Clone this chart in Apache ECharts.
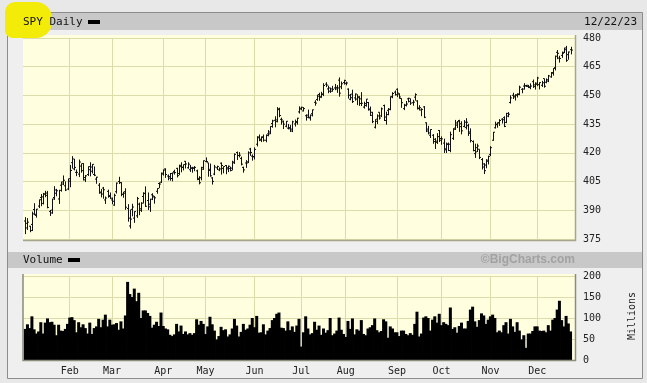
<!DOCTYPE html>
<html>
<head>
<meta charset="utf-8">
<style>
  html, body { margin: 0; padding: 0; background: #e8e8e8; }
  #chart { width: 647px; height: 383px; }
</style>
<script src="https://cdn.jsdelivr.net/npm/echarts@6/dist/echarts.min.js"></script>
</head>
<body>
<div id="chart"></div>
<script>
// market holidays 2023, used to build the trading-day categories
const holidays = ['2023-01-16', '2023-02-20', '2023-04-07', '2023-05-29',
  '2023-06-19', '2023-07-04', '2023-09-04', '2023-11-23'];
const monthNames = ['Jan', 'Feb', 'Mar', 'Apr', 'May', 'Jun', 'Jul', 'Aug', 'Sep', 'Oct', 'Nov', 'Dec'];

// SPY daily, Jan 3 .. Dec 22 2023
const open = [
  384.4, 383.2, 381.7, 382.6, 390.4, 387.3, 392.2, 396.7, 393.6, 398.5, 399.0, 389.4, 390.1, 396.7, 398.9, 395.9, 403.1, 403.7, 402.8, 401.1,
  405.2, 414.9, 411.6, 409.8, 408.9, 413.1, 414.4, 405.9, 408.7, 411.2, 410.4, 408.7, 406.3, 403.1, 399.5, 401.6, 395.4, 399.9, 397.2,
  395.4, 392.7, 399.7, 405.0, 404.4, 398.4, 399.7, 390.9, 381.8, 390.5, 385.9, 387.1, 393.2, 390.8, 397.2, 398.7, 395.1, 391.8, 398.1, 397.0, 399.9, 404.0, 404.7,
  408.9, 411.6, 407.9, 406.8, 406.6, 410.3, 411.9, 409.2, 412.8, 412.4, 415.6, 412.2, 411.2, 412.2, 411.9, 410.6, 406.7, 407.0, 411.5,
  415.5, 414.8, 411.4, 406.9, 408.9, 412.2, 411.1, 414.6, 411.9, 413.4, 412.2, 411.9, 412.0, 414.8, 420.2, 418.6, 417.1, 412.4, 414.7, 415.3, 422.0, 418.3,
  418.1, 424.5, 428.3, 426.6, 428.4, 426.6, 429.9, 430.9, 435.3, 437.0, 436.3, 443.0, 437.5, 436.2, 433.9, 432.9, 432.6, 432.4, 435.1, 435.8, 441.4,
  442.9, 441.9, 439.4, 438.6, 438.2, 440.5, 446.4, 447.9, 450.5, 449.1, 450.5, 455.9, 453.4, 453.9, 453.4, 453.9, 453.4, 458.0, 454.5, 456.7,
  456.3, 453.3, 448.0, 450.7, 448.7, 448.1, 449.3, 448.2, 443.9, 444.7, 446.3, 442.5, 441.2, 433.4, 437.6, 441.2, 439.3, 444.7, 438.7, 442.2, 442.7, 449.5, 451.7,
  453.2, 450.7, 448.4, 443.1, 444.9, 448.2, 446.9, 446.2, 449.1, 447.1, 443.1, 442.4, 444.0, 435.7, 432.4, 429.2, 429.2, 427.1, 425.5, 431.7,
  426.6, 425.1, 422.1, 424.4, 421.2, 427.6, 432.9, 435.6, 436.9, 435.2, 433.8, 433.3, 434.2, 430.9, 425.9, 419.6, 422.7, 421.9, 416.5, 414.2, 413.6, 416.2,
  419.2, 426.6, 433.1, 435.0, 435.7, 437.6, 438.4, 435.9, 439.2, 446.3, 450.1, 449.2, 450.2, 450.5, 453.2, 454.9, 455.1, 454.7, 454.1, 457.2, 455.5,
  455.8, 455.6, 455.3, 458.8, 456.9, 457.5, 459.7, 461.6, 464.5, 472.5, 469.5, 470.9, 472.5, 473.9, 471.3, 473.9
];
const high = [
  386.4, 385.9, 381.8, 389.3, 393.7, 390.7, 395.6, 398.5, 399.1, 400.2, 400.1, 390.2, 396.0, 402.6, 401.2, 400.7, 404.9, 408.2, 405.1, 406.5,
  413.7, 418.3, 416.9, 411.3, 416.5, 414.5, 414.6, 408.4, 412.9, 415.1, 414.1, 412.9, 407.5, 404.2, 401.1, 402.2, 397.2, 400.8, 399.3,
  396.7, 398.7, 404.5, 407.5, 404.7, 399.7, 401.5, 393.2, 390.4, 393.4, 389.5, 397.0, 394.0, 394.2, 399.4, 402.5, 399.3, 396.0, 398.9, 397.5, 401.5, 404.6, 409.7,
  411.3, 411.9, 408.7, 409.5, 409.7, 411.2, 412.2, 413.8, 415.1, 413.9, 415.7, 415.1, 413.7, 412.7, 413.1, 411.2, 407.8, 412.7, 416.0,
  417.6, 414.8, 414.4, 407.3, 413.7, 413.3, 412.4, 415.0, 412.9, 413.6, 413.4, 412.8, 415.9, 419.7, 420.7, 420.4, 418.0, 412.8, 416.2, 420.8, 422.6, 419.2,
  422.9, 428.7, 429.6, 428.6, 429.6, 429.6, 431.9, 433.9, 437.3, 439.1, 443.9, 443.6, 438.4, 436.9, 436.6, 435.1, 434.6, 436.8, 437.4, 438.3, 444.3,
  444.1, 443.9, 440.1, 442.6, 440.0, 442.6, 447.5, 450.4, 451.4, 451.9, 456.4, 456.9, 455.1, 454.0, 455.0, 456.0, 455.4, 459.4, 457.3, 458.2,
  457.2, 453.7, 450.8, 453.0, 451.0, 450.6, 449.6, 451.7, 446.7, 448.1, 446.6, 444.2, 441.4, 437.6, 440.1, 441.2, 443.7, 445.2, 441.5, 443.4, 449.5, 451.7, 452.6,
  453.7, 451.1, 448.5, 445.6, 447.1, 448.8, 448.5, 447.7, 451.1, 447.5, 444.9, 443.3, 444.4, 435.9, 434.1, 432.3, 429.8, 427.7, 430.3, 431.9,
  428.6, 427.4, 425.4, 425.4, 431.1, 432.9, 437.2, 436.6, 437.3, 436.5, 437.1, 438.1, 435.2, 432.8, 426.5, 424.8, 424.8, 421.9, 417.3, 414.6, 416.7, 418.5,
  423.5, 430.9, 436.3, 435.9, 437.6, 438.1, 439.1, 440.9, 441.3, 450.1, 451.4, 450.6, 451.1, 455.1, 453.8, 456.4, 455.5, 455.5, 456.3, 458.3, 456.8,
  459.7, 456.8, 457.6, 458.8, 458.9, 460.7, 462.2, 464.2, 470.8, 473.7, 470.7, 472.9, 474.9, 475.9, 472.9, 475.4
];
const low = [
  377.8, 380.0, 378.8, 379.4, 387.7, 386.4, 391.4, 392.4, 393.3, 397.1, 391.3, 387.3, 388.4, 395.7, 397.6, 393.6, 400.0, 403.4, 400.3, 400.8,
  402.3, 412.0, 411.1, 408.1, 407.6, 409.9, 405.8, 405.0, 408.2, 408.0, 409.5, 408.1, 404.1, 398.9, 397.0, 396.3, 393.6, 396.8, 396.2,
  393.4, 392.6, 399.0, 404.0, 397.6, 396.8, 390.5, 384.3, 380.7, 387.1, 383.7, 386.3, 387.7, 389.4, 393.8, 392.0, 390.4, 389.4, 395.6, 393.7, 398.9, 401.8, 404.5,
  408.4, 407.2, 405.9, 405.7, 405.4, 408.9, 407.4, 408.6, 410.1, 411.1, 412.1, 412.0, 410.3, 409.9, 410.7, 406.0, 403.8, 405.9, 411.4,
  415.3, 407.8, 407.8, 403.7, 408.6, 411.3, 410.7, 408.9, 409.6, 409.1, 410.2, 410.6, 411.1, 414.5, 416.5, 417.9, 413.7, 409.9, 412.4, 414.9, 418.7, 416.2,
  416.8, 423.6, 426.4, 425.9, 426.1, 425.8, 428.9, 430.0, 433.4, 433.6, 436.2, 438.9, 435.0, 432.7, 433.6, 432.5, 431.2, 431.1, 434.0, 435.0, 440.8,
  442.6, 441.9, 437.1, 438.3, 437.1, 439.3, 444.9, 447.4, 447.5, 449.0, 449.9, 454.6, 451.4, 451.6, 452.2, 453.0, 451.6, 449.6, 453.5, 455.9,
  455.5, 448.6, 447.7, 446.3, 447.5, 445.2, 444.8, 444.7, 443.4, 444.4, 442.3, 439.5, 435.8, 433.0, 435.3, 437.6, 439.0, 436.9, 435.0, 439.9, 442.5, 448.8, 450.2,
  449.4, 448.5, 443.8, 442.6, 444.5, 446.6, 445.3, 444.9, 447.5, 442.9, 442.4, 439.4, 438.4, 431.1, 429.9, 428.0, 425.0, 422.3, 424.9, 425.9,
  424.5, 420.2, 420.2, 421.2, 420.6, 427.0, 432.2, 433.2, 431.2, 429.9, 433.6, 432.5, 429.1, 425.7, 421.1, 417.6, 420.7, 417.0, 411.6, 409.2, 412.2, 414.2,
  418.6, 426.6, 433.0, 433.4, 434.3, 435.6, 433.7, 435.8, 438.9, 446.0, 448.4, 447.6, 449.2, 450.4, 451.4, 453.3, 454.7, 454.1, 453.5, 454.2, 453.3,
  455.1, 453.4, 454.7, 454.3, 456.6, 457.2, 459.5, 460.6, 463.3, 469.2, 467.4, 469.9, 472.4, 467.8, 468.9, 471.7
];
const close = [
  380.8, 383.8, 379.4, 388.1, 387.9, 390.6, 395.5, 397.0, 398.5, 397.8, 391.5, 388.6, 395.9, 400.6, 400.2, 400.4, 404.8, 405.7, 400.6, 406.5,
  410.8, 416.8, 412.4, 409.8, 415.2, 410.7, 407.1, 408.0, 412.8, 412.6, 414.0, 408.3, 407.3, 399.1, 398.5, 400.7, 396.4, 397.7, 396.3,
  394.7, 397.8, 404.2, 404.5, 398.3, 398.9, 391.6, 385.9, 385.4, 391.7, 389.3, 396.1, 390.0, 393.7, 398.9, 392.1, 393.2, 395.8, 397.5, 396.5, 401.4, 403.7, 409.4,
  411.0, 408.7, 407.6, 409.2, 409.6, 409.7, 408.1, 413.5, 412.5, 413.9, 414.2, 414.1, 411.9, 412.2, 412.4, 406.1, 404.4, 412.4, 415.9,
  415.5, 410.8, 408.0, 405.1, 412.6, 412.9, 411.6, 413.4, 412.9, 411.6, 413.0, 410.8, 415.2, 419.2, 418.6, 418.8, 414.1, 411.1, 414.7, 420.0, 420.2, 417.9,
  421.8, 427.9, 427.1, 428.0, 426.6, 429.1, 429.9, 433.8, 436.7, 437.2, 442.6, 439.5, 437.2, 435.0, 436.5, 433.2, 431.4, 436.2, 436.4, 438.1, 443.3,
  443.8, 443.1, 439.7, 438.6, 439.7, 442.5, 446.0, 449.6, 449.3, 450.8, 455.2, 455.4, 452.2, 452.2, 453.2, 454.2, 453.9, 451.2, 456.1, 457.8,
  456.5, 450.1, 448.8, 446.8, 450.7, 448.8, 445.8, 445.9, 445.7, 448.1, 442.9, 439.6, 436.3, 436.5, 439.3, 438.2, 443.0, 436.9, 440.0, 442.8, 449.2, 451.0, 450.4,
  451.2, 449.2, 446.2, 444.9, 445.5, 448.5, 446.0, 446.5, 450.4, 443.4, 443.6, 442.7, 438.6, 431.4, 430.4, 432.2, 425.9, 426.1, 428.5, 427.5,
  427.3, 421.6, 424.7, 424.5, 429.5, 432.3, 434.5, 436.3, 433.7, 431.5, 436.0, 436.0, 430.2, 426.4, 421.2, 420.5, 423.6, 417.6, 412.6, 410.7, 415.6, 418.2,
  422.7, 430.8, 434.7, 435.7, 436.9, 437.3, 433.8, 440.6, 440.2, 448.7, 449.7, 450.2, 450.8, 454.3, 453.3, 455.0, 455.3, 454.5, 454.9, 454.6, 456.4,
  459.1, 456.7, 456.6, 454.8, 458.2, 460.2, 462.0, 464.1, 470.5, 472.0, 469.3, 472.0, 474.8, 468.3, 472.7, 473.7
];
// volume, millions of shares
const volume = [
  74, 85, 76, 104, 73, 63, 68, 90, 63, 89, 99, 90, 91, 84, 59, 84, 70, 69, 74, 86,
  101, 102, 95, 66, 90, 78, 85, 76, 63, 89, 62, 76, 80, 98, 78, 96, 108, 80, 96,
  84, 85, 88, 72, 92, 75, 106, 186, 157, 150, 170, 140, 160, 100, 118, 118, 112, 105, 77, 84, 91, 81, 113,
  81, 75, 73, 60, 57, 61, 86, 68, 82, 62, 68, 61, 64, 60, 64, 97, 84, 93, 86,
  62, 80, 103, 85, 70, 49, 57, 79, 71, 73, 56, 61, 75, 98, 82, 56, 67, 86, 72, 75, 84, 100,
  78, 105, 65, 66, 85, 61, 70, 76, 95, 100, 110, 113, 77, 76, 70, 92, 71, 80, 67, 82, 98,
  32, 66, 104, 75, 61, 64, 91, 72, 82, 60, 75, 65, 71, 100, 59, 63, 70, 101, 72, 62,
  55, 93, 74, 99, 61, 73, 70, 95, 62, 59, 75, 78, 83, 99, 71, 66, 69, 97, 92, 53, 80, 75, 66,
  66, 57, 70, 70, 62, 59, 64, 60, 86, 115, 56, 63, 101, 104, 100, 70, 96, 104, 89, 110,
  83, 90, 86, 83, 125, 74, 78, 65, 81, 89, 75, 75, 93, 120, 127, 92, 79, 95, 111, 106, 86, 96,
  104, 108, 100, 66, 70, 66, 83, 90, 63, 98, 80, 67, 90, 70, 49, 59, 29, 63, 63, 69, 80,
  80, 70, 69, 70, 66, 83, 70, 96, 100, 120, 141, 95, 80, 105, 87, 68
];
const priceTicks = { min: 375, max: 480, interval: 15 };
const volTicks = { min: 0, max: 200, interval: 50 };

// trading days
const dates = [];
let d = new Date(Date.UTC(2023, 0, 3));
while (dates.length < close.length) {
  const s = d.toISOString().slice(0, 10);
  const wd = d.getUTCDay();
  if (wd !== 0 && wd !== 6 && holidays.indexOf(s) < 0) dates.push(s);
  d = new Date(d.getTime() + 86400000);
}
// one empty slot before, two after, like the original's margins
const cats = [''].concat(dates, ['', '']);
const monthStart = {};
for (let i = 2; i < cats.length; i++) {
  if (cats[i] && cats[i - 1] && cats[i].slice(5, 7) !== cats[i - 1].slice(5, 7)) monthStart[i] = true;
}
const isMonthStart = (idx) => !!monthStart[idx];

const ohlc = close.map((c, i) => [i + 1, open[i], high[i], low[i], c]);
const volData = [null].concat(volume, [null, null]);

const FONT = '"DejaVu Sans Mono", monospace';
const gridLine = { show: true, interval: isMonthStart, lineStyle: { color: '#dcdcaa', width: 1 } };

const chart = echarts.init(document.getElementById('chart'));
chart.setOption({
  backgroundColor: '#e8e8e8',
  animation: false,
  grid: [
    { left: 23, right: 72, top: 38, height: 201 },
    { left: 23, right: 72, top: 276, height: 84 }
  ],
  xAxis: [0, 1].map((g) => ({
    type: 'category',
    gridIndex: g,
    data: cats,
    boundaryGap: false,
    axisLine: { show: false },
    axisTick: { show: false },
    axisLabel: {
      show: g === 1,
      interval: isMonthStart,
      formatter: (v) => (v ? monthNames[+v.slice(5, 7) - 1] : ''),
      color: '#222',
      fontFamily: FONT,
      fontSize: 10,
      margin: 6
    },
    splitLine: gridLine
  })),
  yAxis: [
    Object.assign({ gridIndex: 0 }, priceTicks),
    Object.assign({ gridIndex: 1 }, volTicks)
  ].map((a) => Object.assign(a, {
    type: 'value',
    position: 'right',
    axisLine: { show: false },
    axisTick: { show: false },
    axisLabel: { color: '#222', fontFamily: FONT, fontSize: 10, margin: 8 },
    splitLine: { show: true, lineStyle: { color: '#dcdcaa', width: 1 } }
  })),
  series: [
    {
      type: 'custom',
      xAxisIndex: 0,
      yAxisIndex: 0,
      data: ohlc,
      encode: { x: 0, y: [1, 2, 3, 4] },
      renderItem: function (params, api) {
        const x = api.value(0);
        const pO = api.coord([x, api.value(1)]);
        const pH = api.coord([x, api.value(2)]);
        const pL = api.coord([x, api.value(3)]);
        const pC = api.coord([x, api.value(4)]);
        const cx = Math.round(pH[0]) + 0.5;
        const st = { stroke: '#111', lineWidth: 1 };
        return {
          type: 'group',
          children: [
            { type: 'line', shape: { x1: cx, y1: pH[1], x2: cx, y2: pL[1] + 0.5 }, style: st },
            { type: 'line', shape: { x1: cx - 1.5, y1: pO[1], x2: cx, y2: pO[1] }, style: st },
            { type: 'line', shape: { x1: cx, y1: pC[1], x2: cx + 1.5, y2: pC[1] }, style: st }
          ]
        };
      }
    },
    {
      type: 'bar',
      xAxisIndex: 1,
      yAxisIndex: 1,
      data: volData,
      barWidth: 3,
      itemStyle: { color: '#000' }
    }
  ],
  graphic: [
    { type: 'rect', z: -20, shape: { x: 7.5, y: 12.5, width: 635, height: 366 }, style: { fill: '#efefef', stroke: '#8c8c8c', lineWidth: 1 } },
    { type: 'rect', z: -19, shape: { x: 8, y: 13, width: 634, height: 17 }, style: { fill: '#c8c8c8' } },
    { type: 'rect', z: -19, shape: { x: 8, y: 252, width: 634, height: 16 }, style: { fill: '#c8c8c8' } },
    { type: 'rect', z: -19, shape: { x: 23, y: 35, width: 552, height: 205 }, style: { fill: '#ffffe0' } },
    { type: 'rect', z: -19, shape: { x: 23, y: 274, width: 552, height: 86 }, style: { fill: '#ffffe0' } },
    { type: 'polyline', z: 5, shape: { points: [[23, 240.5], [575.5, 240.5], [575.5, 35]] }, style: { stroke: '#a6a68c', lineWidth: 1.5, fill: null } },
    { type: 'polyline', z: 5, shape: { points: [[23, 274], [23, 360.5], [575.5, 360.5], [575.5, 274]] }, style: { stroke: '#8c8c7c', lineWidth: 1.5, fill: null } },
    // highlighter mark over the ticker
    { type: 'rect', z: -18, shape: { x: 5, y: 2, width: 47, height: 36, r: [10, 16, 16, 8] }, style: { fill: '#f3eb08' } },
    { type: 'text', z: 10, x: 23, y: 22, style: { text: 'SPY Daily', fill: '#111', font: '11px ' + FONT, verticalAlign: 'middle' } },
    { type: 'rect', z: 10, shape: { x: 88, y: 20, width: 12, height: 4 }, style: { fill: '#000' } },
    { type: 'text', z: 10, x: 637, y: 22, style: { text: '12/22/23', fill: '#111', font: '11px ' + FONT, align: 'right', verticalAlign: 'middle' } },
    { type: 'text', z: 10, x: 23, y: 260, style: { text: 'Volume', fill: '#111', font: '11px ' + FONT, verticalAlign: 'middle' } },
    { type: 'rect', z: 10, shape: { x: 68, y: 258, width: 12, height: 4 }, style: { fill: '#000' } },
    { type: 'text', z: 10, x: 575, y: 260, style: { text: '©BigCharts.com', fill: '#a2a2a2', font: 'bold 12px "Liberation Sans", sans-serif', align: 'right', verticalAlign: 'middle' } },
    { type: 'text', z: 10, x: 632, y: 316, rotation: Math.PI / 2, style: { text: 'Millions', fill: '#222', font: '10px ' + FONT, align: 'center', verticalAlign: 'middle' } }
  ]
});
</script>
</body>
</html>
